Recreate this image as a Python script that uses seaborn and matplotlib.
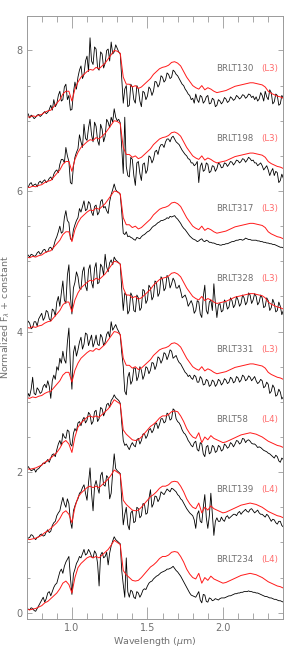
import numpy as np
import pandas as pd
import matplotlib
matplotlib.use("Agg")
import matplotlib.pyplot as plt
from matplotlib.ticker import MultipleLocator
import seaborn as sns

# ---------------- data ----------------
wave_obs = np.round(np.arange(0.70, 2.4001, 0.01), 2)   # 171 points (micron)
wave_tmpl = np.round(np.arange(0.70, 2.4001, 0.02), 2)  # 86 points (micron)

names = ["BRLT130", "BRLT198", "BRLT317", "BRLT328", "BRLT331", "BRLT58", "BRLT139", "BRLT234"]
sptypes = ["L3", "L3", "L3", "L3", "L3", "L4", "L4", "L4"]
offsets = [7, 6, 5, 4, 3, 2, 1, 0]

template_L3 = [0.06, 0.05, 0.07, 0.06, 0.08, 0.09, 0.12, 0.14, 0.15, 0.20,
               0.25, 0.30, 0.38, 0.42, 0.42, 0.28, 0.45, 0.55, 0.62, 0.66,
               0.70, 0.73, 0.72, 0.76, 0.74, 0.78, 0.82, 0.88, 0.94, 1.00,
               0.99, 0.96, 0.62, 0.52, 0.52, 0.48, 0.50, 0.46, 0.48, 0.52,
               0.56, 0.60, 0.66, 0.70, 0.74, 0.76, 0.77, 0.79, 0.83, 0.84,
               0.82, 0.78, 0.70, 0.62, 0.56, 0.50, 0.47, 0.45, 0.50, 0.44,
               0.47, 0.45, 0.42, 0.40, 0.41, 0.42, 0.43, 0.45, 0.47, 0.49,
               0.50, 0.51, 0.52, 0.53, 0.54, 0.54, 0.53, 0.52, 0.51, 0.48,
               0.42, 0.39, 0.37, 0.35, 0.34, 0.32]

template_L4 = [0.05, 0.04, 0.05, 0.06, 0.08, 0.10, 0.14, 0.16, 0.20, 0.24,
               0.28, 0.34, 0.42, 0.45, 0.40, 0.28, 0.50, 0.64, 0.70, 0.74,
               0.78, 0.80, 0.78, 0.80, 0.78, 0.82, 0.86, 0.90, 0.96, 1.03,
               1.00, 0.97, 0.60, 0.54, 0.50, 0.46, 0.45, 0.46, 0.50, 0.55,
               0.60, 0.65, 0.68, 0.72, 0.77, 0.80, 0.80, 0.82, 0.86, 0.87,
               0.86, 0.80, 0.72, 0.62, 0.55, 0.50, 0.48, 0.56, 0.42, 0.50,
               0.46, 0.52, 0.48, 0.46, 0.44, 0.42, 0.43, 0.45, 0.47, 0.49,
               0.51, 0.53, 0.54, 0.55, 0.56, 0.55, 0.54, 0.52, 0.50, 0.47,
               0.44, 0.42, 0.40, 0.38, 0.37, 0.35]

flux_BRLT130 = [
    0.07, 0.10, 0.04, 0.08, 0.06, 0.03, 0.05, 0.08, 0.09, 0.06,
    0.08, 0.11, 0.13, 0.10, 0.12, 0.16, 0.22, 0.15, 0.30, 0.20,
    0.24, 0.36, 0.42, 0.28, 0.30, 0.48, 0.52, 0.30, 0.36, 0.15,
    0.16, 0.40, 0.55, 0.45, 0.62, 0.72, 0.78, 0.60, 0.66, 0.85,
    0.92, 0.70, 1.18, 0.85, 0.80, 1.05, 1.02, 0.75, 0.72, 0.98,
    0.95, 0.75, 0.82, 1.00, 1.02, 0.85, 1.12, 0.95, 0.98, 1.08,
    1.03, 0.98, 0.95, 0.60, 0.25, 0.45, 0.50, 0.20, 0.22, 0.52,
    0.48, 0.30, 0.25, 0.50, 0.45, 0.28, 0.20, 0.42, 0.40, 0.30,
    0.35, 0.48, 0.45, 0.36, 0.42, 0.56, 0.55, 0.48, 0.52, 0.64,
    0.62, 0.55, 0.58, 0.68, 0.66, 0.60, 0.62, 0.72, 0.70, 0.66,
    0.64, 0.60, 0.56, 0.52, 0.50, 0.45, 0.42, 0.38, 0.36, 0.30,
    0.32, 0.25, 0.38, 0.30, 0.26, 0.36, 0.34, 0.25, 0.28, 0.34,
    0.36, 0.24, 0.25, 0.32, 0.30, 0.20, 0.22, 0.30, 0.28, 0.24,
    0.27, 0.33, 0.31, 0.26, 0.28, 0.34, 0.32, 0.29, 0.31, 0.36,
    0.34, 0.31, 0.33, 0.37, 0.36, 0.32, 0.34, 0.38, 0.37, 0.33,
    0.35, 0.30, 0.34, 0.28, 0.31, 0.40, 0.36, 0.28, 0.42, 0.34,
    0.30, 0.44, 0.40, 0.24, 0.27, 0.38, 0.36, 0.22, 0.24, 0.36,
    0.32]

flux_BRLT198 = [
    0.08, 0.05, 0.10, 0.12, 0.07, 0.09, 0.10, 0.06, 0.12, 0.14,
    0.11, 0.14, 0.16, 0.12, 0.14, 0.18, 0.20, 0.16, 0.24, 0.28,
    0.30, 0.26, 0.38, 0.45, 0.45, 0.40, 0.62, 0.50, 0.42, 0.12,
    0.10, 0.35, 0.48, 0.55, 0.60, 0.80, 0.70, 0.62, 0.95, 0.75,
    0.72, 0.90, 1.02, 0.80, 0.70, 0.98, 0.92, 0.72, 0.65, 0.95,
    0.88, 0.70, 0.78, 1.02, 0.98, 0.90, 1.05, 0.98, 1.17, 1.05,
    1.00, 1.02, 0.97, 0.60, 0.25, 1.05, 0.35, 0.22, 0.20, 0.48,
    0.45, 0.22, 0.08, 0.40, 0.42, 0.25, 0.15, 0.38, 0.40, 0.25,
    0.30, 0.50, 0.48, 0.40, 0.45, 0.56, 0.58, 0.52, 0.62, 0.66,
    0.66, 0.62, 0.70, 0.74, 0.74, 0.70, 0.76, 0.78, 0.74, 0.70,
    0.68, 0.66, 0.62, 0.58, 0.55, 0.52, 0.50, 0.46, 0.45, 0.40,
    0.40, 0.36, 0.38, 0.42, 0.12, 0.35, 0.40, 0.28, 0.30, 0.40,
    0.38, 0.26, 0.28, 0.36, 0.35, 0.28, 0.32, 0.40, 0.38, 0.33,
    0.34, 0.40, 0.39, 0.35, 0.38, 0.42, 0.41, 0.37, 0.40, 0.44,
    0.43, 0.40, 0.42, 0.46, 0.45, 0.41, 0.44, 0.48, 0.46, 0.43,
    0.44, 0.40, 0.40, 0.36, 0.38, 0.40, 0.36, 0.30, 0.33, 0.36,
    0.30, 0.22, 0.28, 0.32, 0.22, 0.28, 0.26, 0.12, 0.15, 0.24,
    0.18]

flux_BRLT317 = [
    0.07, 0.09, 0.06, 0.10, 0.09, 0.07, 0.08, 0.12, 0.14, 0.10,
    0.12, 0.16, 0.17, 0.13, 0.14, 0.19, 0.20, 0.16, 0.22, 0.30,
    0.35, 0.42, 0.50, 0.40, 0.42, 0.62, 0.72, 0.58, 0.55, 0.32,
    0.30, 0.45, 0.52, 0.58, 0.62, 0.75, 0.70, 0.78, 0.86, 0.72,
    0.74, 0.85, 0.82, 0.70, 0.65, 0.78, 0.80, 0.66, 0.70, 0.85,
    0.88, 0.76, 0.78, 0.72, 0.68, 0.85, 0.95, 1.02, 1.10, 1.02,
    0.99, 0.98, 0.95, 0.70, 0.40, 0.38, 0.42, 0.35, 0.36, 0.34,
    0.33, 0.31, 0.30, 0.34, 0.33, 0.32, 0.35, 0.37, 0.38, 0.40,
    0.42, 0.43, 0.45, 0.48, 0.50, 0.51, 0.53, 0.55, 0.56, 0.58,
    0.58, 0.59, 0.60, 0.62, 0.61, 0.64, 0.63, 0.64, 0.65, 0.62,
    0.60, 0.57, 0.54, 0.50, 0.47, 0.45, 0.42, 0.39, 0.36, 0.34,
    0.32, 0.31, 0.30, 0.28, 0.29, 0.31, 0.32, 0.29, 0.28, 0.30,
    0.29, 0.27, 0.27, 0.26, 0.26, 0.25, 0.24, 0.24, 0.23, 0.23,
    0.24, 0.24, 0.25, 0.25, 0.26, 0.27, 0.28, 0.28, 0.29, 0.30,
    0.30, 0.31, 0.31, 0.30, 0.31, 0.33, 0.32, 0.31, 0.31, 0.30,
    0.30, 0.30, 0.30, 0.29, 0.29, 0.28, 0.28, 0.27, 0.27, 0.26,
    0.26, 0.25, 0.25, 0.24, 0.24, 0.23, 0.22, 0.21, 0.20, 0.20,
    0.19]

flux_BRLT328 = [
    0.07, 0.15, 0.12, 0.04, 0.06, 0.14, 0.14, 0.08, 0.18, 0.22,
    0.26, 0.16, 0.20, 0.30, 0.28, 0.18, 0.15, 0.32, 0.30, 0.22,
    0.42, 0.50, 0.36, 0.55, 0.72, 0.45, 0.40, 0.80, 0.95, 0.50,
    0.25, 0.62, 0.70, 0.85, 0.78, 0.62, 0.60, 0.85, 0.92, 0.65,
    0.58, 0.88, 0.95, 0.70, 0.62, 0.90, 0.98, 0.68, 0.70, 0.96,
    0.92, 0.80, 1.10, 0.92, 0.85, 0.98, 1.02, 0.95, 1.06, 1.02,
    1.00, 0.98, 0.96, 0.60, 0.30, 0.55, 0.52, 0.25, 0.30, 0.55,
    0.50, 0.30, 0.28, 0.52, 0.48, 0.30, 0.34, 0.60, 0.58, 0.40,
    0.45, 0.66, 0.62, 0.45, 0.50, 0.72, 0.70, 0.50, 0.55, 0.78,
    0.74, 0.58, 0.62, 0.80, 0.76, 0.62, 0.68, 0.76, 0.72, 0.62,
    0.62, 0.66, 0.58, 0.48, 0.50, 0.52, 0.46, 0.36, 0.40, 0.44,
    0.38, 0.26, 0.30, 0.44, 0.42, 0.25, 0.20, 0.50, 0.66, 0.30,
    0.25, 0.42, 0.45, 0.30, 0.68, 0.40, 0.20, 0.38, 0.40, 0.28,
    0.30, 0.45, 0.42, 0.32, 0.35, 0.48, 0.44, 0.34, 0.38, 0.50,
    0.45, 0.36, 0.40, 0.52, 0.48, 0.38, 0.42, 0.55, 0.52, 0.40,
    0.45, 0.54, 0.50, 0.38, 0.42, 0.52, 0.48, 0.34, 0.36, 0.48,
    0.44, 0.30, 0.34, 0.46, 0.40, 0.28, 0.30, 0.42, 0.36, 0.24,
    0.30]

flux_BRLT331 = [
    -0.08, 0.12, 0.08, 0.18, 0.35, 0.12, 0.10, 0.20, 0.17, 0.12,
    0.14, 0.22, 0.25, 0.20, 0.30, 0.22, 0.05, 0.30, 0.38, 0.32,
    0.50, 0.45, 0.62, 0.55, 0.72, 0.60, 0.55, 0.85, 1.05, 0.50,
    0.18, 0.70, 0.80, 0.65, 0.74, 0.85, 0.92, 0.75, 0.82, 0.98,
    0.96, 0.80, 0.88, 0.95, 0.78, 0.85, 0.95, 0.82, 0.80, 0.96,
    0.92, 0.80, 0.85, 0.96, 1.00, 0.92, 1.14, 1.02, 1.06, 1.10,
    1.04, 1.00, 0.95, 0.70, 0.50, 0.15, 0.10, 0.35, 0.42, 0.25,
    0.30, 0.48, 0.48, 0.30, 0.36, 0.50, 0.45, 0.32, 0.38, 0.50,
    0.48, 0.40, 0.45, 0.56, 0.55, 0.46, 0.52, 0.64, 0.62, 0.55,
    0.60, 0.70, 0.68, 0.60, 0.66, 0.74, 0.72, 0.62, 0.64, 0.66,
    0.60, 0.56, 0.54, 0.50, 0.46, 0.42, 0.40, 0.36, 0.38, 0.34,
    0.32, 0.38, 0.36, 0.28, 0.28, 0.36, 0.33, 0.24, 0.25, 0.32,
    0.30, 0.22, 0.24, 0.31, 0.29, 0.22, 0.25, 0.32, 0.30, 0.24,
    0.27, 0.33, 0.31, 0.26, 0.28, 0.35, 0.33, 0.27, 0.29, 0.36,
    0.34, 0.28, 0.31, 0.38, 0.36, 0.30, 0.32, 0.37, 0.35, 0.30,
    0.33, 0.36, 0.30, 0.26, 0.28, 0.32, 0.30, 0.20, 0.22, 0.28,
    0.25, 0.12, 0.15, 0.24, 0.20, 0.08, 0.10, 0.18, 0.14, 0.04,
    0.07]

flux_BRLT58 = [
    0.06, 0.08, 0.05, 0.02, 0.03, 0.05, 0.00, 0.04, 0.05, 0.08,
    0.10, 0.13, 0.12, 0.15, 0.18, 0.14, 0.20, 0.25, 0.26, 0.22,
    0.32, 0.40, 0.45, 0.38, 0.55, 0.50, 0.48, 0.60, 0.58, 0.40,
    0.37, 0.55, 0.62, 0.58, 0.70, 0.72, 0.66, 0.74, 0.78, 0.70,
    0.74, 0.85, 0.82, 0.68, 0.72, 0.86, 0.88, 0.72, 0.76, 0.92,
    0.90, 0.80, 0.86, 0.96, 0.98, 0.92, 1.02, 1.05, 1.10, 1.06,
    1.04, 1.02, 0.98, 0.70, 0.45, 0.38, 0.40, 0.36, 0.32, 0.38,
    0.42, 0.38, 0.36, 0.46, 0.48, 0.40, 0.45, 0.54, 0.55, 0.48,
    0.52, 0.60, 0.62, 0.56, 0.60, 0.68, 0.70, 0.62, 0.68, 0.76,
    0.76, 0.70, 0.72, 0.84, 0.82, 0.74, 0.76, 0.90, 0.88, 0.76,
    0.72, 0.70, 0.66, 0.60, 0.56, 0.54, 0.50, 0.45, 0.42, 0.38,
    0.36, 0.42, 0.44, 0.32, 0.30, 0.42, 0.40, 0.26, 0.22, 0.36,
    0.38, 0.26, 0.28, 0.38, 0.36, 0.28, 0.30, 0.38, 0.36, 0.30,
    0.32, 0.40, 0.38, 0.34, 0.36, 0.42, 0.40, 0.36, 0.40, 0.45,
    0.44, 0.40, 0.42, 0.48, 0.47, 0.42, 0.45, 0.46, 0.44, 0.41,
    0.40, 0.40, 0.38, 0.35, 0.36, 0.35, 0.33, 0.31, 0.30, 0.29,
    0.27, 0.26, 0.24, 0.22, 0.20, 0.24, 0.22, 0.16, 0.14, 0.20,
    0.18]

flux_BRLT139 = [
    0.09, 0.06, 0.07, 0.11, 0.10, 0.06, 0.04, 0.07, 0.08, 0.11,
    0.12, 0.09, 0.10, 0.15, 0.18, 0.14, 0.16, 0.24, 0.28, 0.30,
    0.38, 0.42, 0.45, 0.55, 0.64, 0.55, 0.50, 0.62, 0.55, 0.30,
    0.20, 0.45, 0.52, 0.58, 0.62, 0.70, 0.72, 0.78, 0.82, 0.70,
    0.60, 0.85, 1.06, 0.70, 0.45, 0.80, 0.88, 0.78, 0.70, 0.95,
    1.00, 0.82, 0.80, 0.95, 0.92, 0.62, 0.70, 1.00, 1.26, 1.05,
    1.02, 1.00, 0.98, 0.60, 0.25, 0.40, 0.50, 0.25, 0.18, 0.42,
    0.45, 0.28, 0.30, 0.50, 0.48, 0.35, 0.38, 0.55, 0.55, 0.40,
    0.42, 0.62, 0.75, 0.50, 0.55, 0.66, 0.65, 0.58, 0.62, 0.72,
    0.70, 0.68, 0.72, 0.76, 0.74, 0.72, 0.77, 0.76, 0.74, 0.72,
    0.68, 0.66, 0.62, 0.60, 0.56, 0.52, 0.48, 0.45, 0.42, 0.40,
    0.38, 0.32, 0.20, 0.40, 0.45, 0.30, 0.28, 0.50, 0.68, 0.35,
    0.20, 0.38, 0.70, 0.40, 0.10, 0.30, 0.35, 0.30, 0.30, 0.36,
    0.32, 0.30, 0.36, 0.38, 0.34, 0.36, 0.38, 0.40, 0.40, 0.38,
    0.42, 0.44, 0.40, 0.43, 0.45, 0.47, 0.44, 0.43, 0.47, 0.48,
    0.45, 0.42, 0.44, 0.46, 0.42, 0.40, 0.40, 0.38, 0.36, 0.40,
    0.38, 0.34, 0.30, 0.33, 0.32, 0.28, 0.26, 0.30, 0.30, 0.24,
    0.22]

flux_BRLT234 = [
    0.08, 0.05, 0.04, 0.07, 0.06, 0.03, 0.02, 0.06, 0.10, 0.14,
    0.18, 0.22, 0.15, 0.20, 0.28, 0.30, 0.24, 0.30, 0.36, 0.40,
    0.42, 0.50, 0.58, 0.62, 0.56, 0.66, 0.72, 0.76, 0.80, 0.50,
    0.26, 0.55, 0.62, 0.70, 0.74, 0.80, 0.78, 0.84, 0.90, 0.82,
    0.84, 0.90, 0.86, 0.80, 0.78, 0.88, 0.84, 0.70, 0.38, 0.82,
    0.86, 0.78, 0.80, 0.86, 0.68, 0.85, 0.95, 1.02, 1.08, 1.04,
    1.02, 1.00, 0.98, 0.60, 0.40, 0.22, 0.78, 0.30, 0.22, 0.32,
    0.30, 0.22, 0.20, 0.30, 0.28, 0.22, 0.26, 0.32, 0.34, 0.33,
    0.38, 0.42, 0.44, 0.45, 0.48, 0.50, 0.52, 0.53, 0.55, 0.57,
    0.58, 0.59, 0.60, 0.62, 0.62, 0.63, 0.64, 0.66, 0.63, 0.60,
    0.58, 0.55, 0.52, 0.48, 0.44, 0.40, 0.36, 0.32, 0.28, 0.25,
    0.24, 0.23, 0.22, 0.26, 0.30, 0.18, 0.14, 0.26, 0.25, 0.16,
    0.15, 0.21, 0.20, 0.17, 0.18, 0.20, 0.19, 0.18, 0.20, 0.21,
    0.21, 0.21, 0.22, 0.23, 0.24, 0.24, 0.25, 0.26, 0.27, 0.27,
    0.28, 0.28, 0.29, 0.29, 0.30, 0.30, 0.30, 0.31, 0.30, 0.30,
    0.29, 0.29, 0.28, 0.28, 0.27, 0.26, 0.25, 0.24, 0.23, 0.23,
    0.22, 0.21, 0.21, 0.20, 0.19, 0.19, 0.18, 0.17, 0.17, 0.16,
    0.15]

fluxes = [flux_BRLT130, flux_BRLT198, flux_BRLT317, flux_BRLT328,
          flux_BRLT331, flux_BRLT58, flux_BRLT139, flux_BRLT234]
templates = {"L3": template_L3, "L4": template_L4}

x_ticks = [1.0, 1.5, 2.0]
y_ticks = [0, 2, 4, 6, 8]

# ---------------- plot ----------------
sns.set_style("ticks")
plt.rcParams["font.family"] = ["DejaVu Sans"]

GRAY = "#707070"
FRAME = "#9a9a9a"
RED = "#ff1a1a"
LRED = "#ff6a6a"

fig = plt.figure(figsize=(2.99, 6.54), dpi=100)
ax = fig.add_axes([0.089, 0.0535, 0.8586, 0.922])

for name, st, off, flux in zip(names, sptypes, offsets, fluxes):
    obs = pd.DataFrame({"wave": wave_obs, "flux": np.asarray(flux) + off})
    tmpl = pd.DataFrame({"wave": wave_tmpl, "flux": np.asarray(templates[st]) + off})
    sns.lineplot(data=obs, x="wave", y="flux", ax=ax, color="black",
                 lw=0.6, estimator=None, sort=False)
    sns.lineplot(data=tmpl, x="wave", y="flux", ax=ax, color=RED,
                 lw=0.7, estimator=None, sort=False)
    ax.text(1.958, off + 0.75, name, color=GRAY, fontsize=6.2,
            ha="left", va="center")
    ax.text(2.255, off + 0.75, f"({st})", color=LRED, fontsize=6.2,
            ha="left", va="center")

ax.set_xlim(0.70, 2.40)
ax.set_ylim(-0.09, 8.49)
ax.set_xticks(x_ticks)
ax.set_xticklabels([f"{t:.1f}" for t in x_ticks])
ax.set_yticks(y_ticks)
ax.set_yticklabels([str(t) for t in y_ticks])
ax.xaxis.set_minor_locator(MultipleLocator(0.1))
ax.yaxis.set_minor_locator(MultipleLocator(0.5))

ax.tick_params(axis="x", which="major", direction="in", length=8.5, width=0.6,
               top=True, bottom=True, colors=FRAME, labelcolor=GRAY,
               labelsize=7, pad=3)
ax.tick_params(axis="x", which="minor", direction="in", length=4.3, width=0.6,
               top=True, bottom=True, colors=FRAME)
ax.tick_params(axis="y", which="major", direction="in", length=3.6, width=0.6,
               left=True, right=True, colors=FRAME, labelcolor=GRAY,
               labelsize=7, pad=3)
ax.tick_params(axis="y", which="minor", direction="in", length=2.4, width=0.6,
               left=True, right=True, colors=FRAME)
for sp in ax.spines.values():
    sp.set_color(FRAME)
    sp.set_linewidth(0.7)

ax.set_xlabel(r"Wavelength ($\mu$m)", color=GRAY, fontsize=6.8, labelpad=1)
ax.set_ylabel(r"Normalized F$_\lambda$ + constant", color=GRAY, fontsize=6.8,
              labelpad=3)

fig.savefig("out.png", dpi=100)
